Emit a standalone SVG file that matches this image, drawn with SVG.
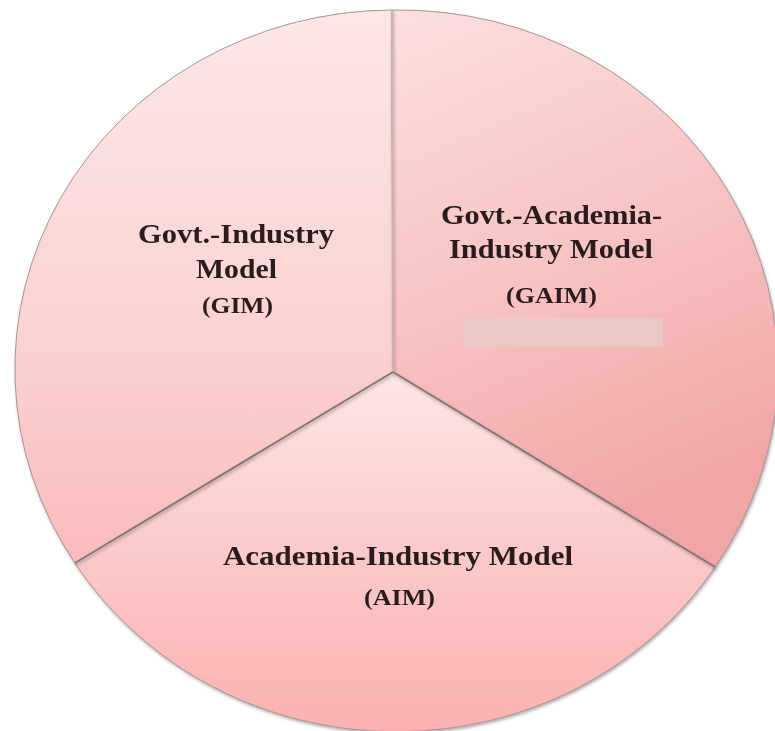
<svg xmlns="http://www.w3.org/2000/svg" width="775" height="731" viewBox="0 0 775 731">
  <defs>
    <linearGradient id="gradGim" x1="0" y1="0" x2="0" y2="1">
      <stop offset="0" stop-color="#fde7e7"/>
      <stop offset="0.6" stop-color="#fad2d2"/>
      <stop offset="1" stop-color="#fabbbb"/>
    </linearGradient>
    <linearGradient id="gradGaim" x1="0" y1="0" x2="0.3" y2="1">
      <stop offset="0" stop-color="#fcdfdf"/>
      <stop offset="0.55" stop-color="#f7c2c2"/>
      <stop offset="1" stop-color="#f1a6a6"/>
    </linearGradient>
    <linearGradient id="gradAim" x1="0" y1="0" x2="0" y2="1">
      <stop offset="0" stop-color="#fde6e6"/>
      <stop offset="0.5" stop-color="#fbcaca"/>
      <stop offset="1" stop-color="#fbb0b0"/>
    </linearGradient>
    <filter id="softShadow" x="-5%" y="-5%" width="110%" height="110%">
      <feDropShadow dx="1" dy="2" stdDeviation="1.5" flood-color="#5a4a4a" flood-opacity="0.45"/>
    </filter>
  </defs>
  <style>
    .sector { stroke: #a89494; stroke-width: 1; }
    .label { font-family: "Liberation Serif", "Times New Roman", serif; font-weight: bold; fill: #2a1c1c; text-anchor: middle; }
    .big { font-size: 28px; }
    .small { font-size: 24px; }
    .divider { stroke: #8c7676; stroke-width: 2; fill: none; }
    .divider-light { stroke: #cdb0b0; stroke-width: 2; fill: none; }
  </style>

  <rect width="775" height="731" fill="#ffffff"/>

  <g id="pie" filter="url(#softShadow)">
    <!-- Govt.-Industry Model (left sector) -->
    <g id="gim">
      <path class="sector" fill="url(#gradGim)" d="M393,372 L392,10 A379,359 0 0 0 75,563 Z"/>
      <text class="label big" x="236" y="243" textLength="196" lengthAdjust="spacingAndGlyphs">Govt.-Industry</text>
      <text class="label big" x="236.5" y="278" textLength="81" lengthAdjust="spacingAndGlyphs">Model</text>
      <text class="label small" x="237.5" y="313" textLength="71" lengthAdjust="spacingAndGlyphs">(GIM)</text>
    </g>

    <!-- Govt.-Academia-Industry Model (right sector) -->
    <g id="gaim">
      <path class="sector" fill="url(#gradGaim)" d="M393,372 L392,10 A379,359 0 0 1 715,567 Z"/>
      <text class="label big" x="551.5" y="224" textLength="221" lengthAdjust="spacingAndGlyphs">Govt.-Academia-</text>
      <text class="label big" x="551" y="258" textLength="204" lengthAdjust="spacingAndGlyphs">Industry Model</text>
      <text class="label small" x="551.5" y="303" textLength="91" lengthAdjust="spacingAndGlyphs">(GAIM)</text>
      <rect x="464" y="318" width="199" height="29" fill="#ecc9c9"/>
    </g>

    <!-- Academia-Industry Model (bottom sector) -->
    <g id="aim">
      <path class="sector" fill="url(#gradAim)" d="M393,372 L715,567 A379,359 0 0 1 75,563 Z"/>
      <text class="label big" x="398" y="565" textLength="350" lengthAdjust="spacingAndGlyphs">Academia-Industry Model</text>
      <text class="label small" x="399.5" y="605" textLength="71" lengthAdjust="spacingAndGlyphs">(AIM)</text>
    </g>
  </g>

  <!-- sector boundaries -->
  <g id="connectors" filter="url(#softShadow)">
    <line class="divider-light" x1="393" y1="372" x2="392" y2="10"/>
    <line class="divider" x1="393" y1="372" x2="75" y2="563"/>
    <line class="divider" x1="393" y1="372" x2="715" y2="567"/>
  </g>
</svg>
